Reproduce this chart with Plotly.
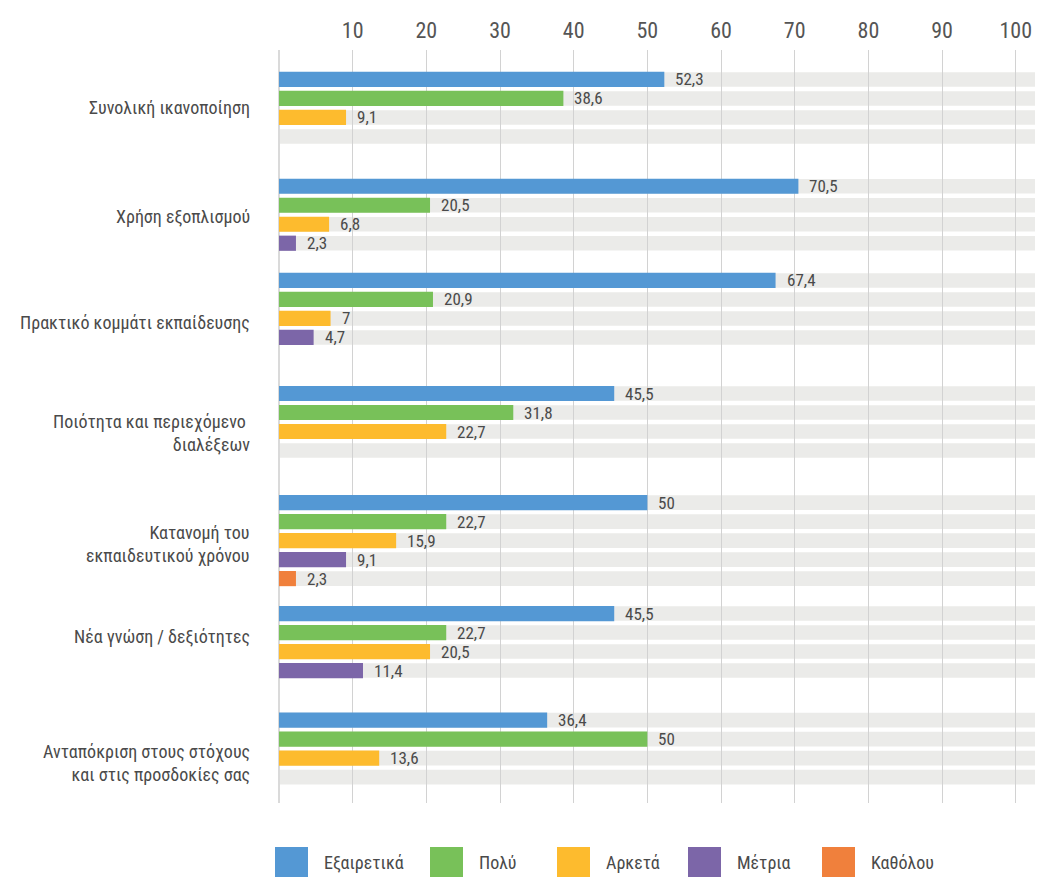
import plotly.graph_objects as go

# ---------------- data ----------------
categories = [
    "Συνολική ικανοποίηση",
    "Χρήση εξοπλισμού",
    "Πρακτικό κομμάτι εκπαίδευσης",
    "Ποιότητα και περιεχόμενο\u00a0<br>διαλέξεων",
    "Κατανομή του<br>εκπαιδευτικού χρόνου",
    "Νέα γνώση / δεξιότητες",
    "Ανταπόκριση στους στόχους<br>και στις προσδοκίες σας",
]
series_names = ["Εξαιρετικά", "Πολύ", "Αρκετά", "Μέτρια", "Καθόλου"]
exairetika = [52.3, 70.5, 67.4, 45.5, 50, 45.5, 36.4]
poly = [38.6, 20.5, 20.9, 31.8, 22.7, 22.7, 50]
arketa = [9.1, 6.8, 7, 22.7, 15.9, 20.5, 13.6]
metria = [None, 2.3, 4.7, None, 9.1, 11.4, None]
katholou = [None, None, None, None, 2.3, None, None]
tick_values = [10, 20, 30, 40, 50, 60, 70, 80, 90, 100]

# ---------------- layout / style ----------------
series_values = [exairetika, poly, arketa, metria, katholou]
colors = ["#5498d4", "#78c159", "#fdbb2e", "#7c66a8", "#f0803c"]
BAND = "#ebebe9"
TEXT = "#4a4a4a"
FONT = "Roboto Condensed, Roboto, sans-serif"

OFF = 8  # page body margin
W, H = 1043 - OFF, 877 - OFF
PL, PR, PT, PB = 279 - OFF, 1043 - OFF, 50 - OFF, 803 - OFF
SLOT = 19.0
X_MAX = 103.7
Y_MAX = (PB - PT) / SLOT
group_offsets = [1.55, 7.17, 12.13, 18.08, 23.82, 29.66, 35.27]
slot_counts = [4, 4, 4, 4, 5, 4, 4]
label_offsets = [3.0, 8.77, 14.32, 20.18, 26.0, 30.88, 37.5]


def px_x(x):
    return (x - OFF - PL) / (PR - PL)


def px_y(y):
    return (PB - (y - OFF)) / (PB - PT)


fig = go.Figure()
shapes = []
annotations = []

# background bands
for g, start in enumerate(group_offsets):
    for k in range(slot_counts[g]):
        c = start + k
        shapes.append(dict(type="rect", xref="paper", yref="y", x0=0, x1=1,
                           y0=c - 0.385, y1=c + 0.385, fillcolor=BAND,
                           line=dict(width=0), layer="below"))

# bars
for k, (name, vals) in enumerate(zip(series_names, series_values)):
    ys, xs = [], []
    for g, v in enumerate(vals):
        if v is None:
            continue
        ys.append(group_offsets[g] + k)
        xs.append(v)
        annotations.append(dict(x=v, y=group_offsets[g] + k, xref="x", yref="y",
                                text=f"{v:g}".replace(".", ","), showarrow=False,
                                xanchor="left", yanchor="middle", xshift=9,
                                font=dict(family=FONT, size=17, color=TEXT)))
    fig.add_trace(go.Bar(x=xs, y=ys, orientation="h", name=name,
                         marker=dict(color=colors[k], line=dict(width=0)),
                         width=0.8, showlegend=False))

# category labels
for g, lab in enumerate(categories):
    annotations.append(dict(x=0, y=label_offsets[g], xref="paper", yref="y",
                            text=lab, showarrow=False, xanchor="right",
                            yanchor="middle", align="right", xshift=-27,
                            font=dict(family=FONT, size=18, color=TEXT)))

# custom legend
leg_sq_x = [275, 430, 557, 688, 822]
for k, name in enumerate(series_names):
    x0 = leg_sq_x[k]
    shapes.append(dict(type="rect", xref="paper", yref="paper",
                       x0=px_x(x0), x1=px_x(x0 + 33), y0=px_y(847), y1=px_y(880),
                       fillcolor=colors[k], line=dict(width=0)))
    annotations.append(dict(x=px_x(x0 + 47), y=px_y(862), xref="paper", yref="paper",
                            text=name, showarrow=False, xanchor="left", yanchor="middle",
                            font=dict(family=FONT, size=18, color=TEXT)))

fig.update_layout(
    width=W, height=H,
    margin=dict(l=PL, r=W - PR, t=PT, b=H - PB, pad=0),
    paper_bgcolor="white", plot_bgcolor="white",
    barmode="overlay",
    showlegend=False,
    shapes=shapes,
    annotations=annotations,
    font=dict(family=FONT, color=TEXT),
    xaxis=dict(range=[0, X_MAX], side="top", tickvals=tick_values,
               showgrid=True, gridcolor="#d2d2d2", gridwidth=1,
               zeroline=True, zerolinecolor="#dadada", zerolinewidth=2,
               showline=False, ticks="", ticklabelstandoff=7,
               tickfont=dict(family=FONT, size=22, color="#555555"),
               fixedrange=True),
    yaxis=dict(range=[Y_MAX, 0], showticklabels=False, showgrid=False,
               zeroline=False, showline=False, fixedrange=True),
)

fig.write_html("out.html")
